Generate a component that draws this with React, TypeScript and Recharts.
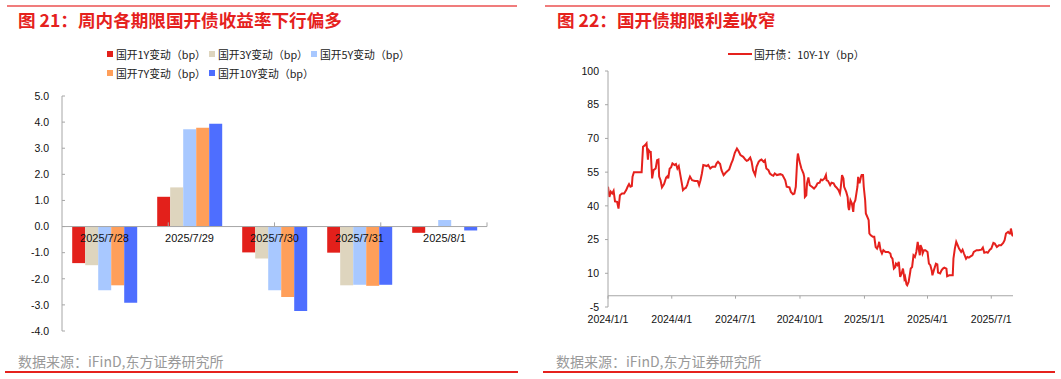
import React from 'react';
import { BarChart, Bar, XAxis, YAxis, ReferenceLine, ReferenceDot, Label, LineChart, Line } from 'recharts';

const FONT = '"Liberation Sans", Arial, "Noto Sans CJK SC", sans-serif';
const CJK = '"Noto Sans CJK SC", "Liberation Sans", sans-serif';

// ---------- Figure 21 data ----------
const barCategories = ['2025/7/28', '2025/7/29', '2025/7/30', '2025/7/31', '2025/8/1'];
const barSeriesKeys = ['y1', 'y3', 'y5', 'y7', 'y10'];
const barSeriesNames = ['国开1Y变动（bp）', '国开3Y变动（bp）', '国开5Y变动（bp）', '国开7Y变动（bp）', '国开10Y变动（bp）'];
const barColors = ['#E3201B', '#DED5BE', '#A8C8FF', '#FF9F5A', '#4E6EFF'];
const chg1Y = [-1.4, 1.14, -0.99, -1.0, -0.24];
const chg3Y = [-1.48, 1.5, -1.22, -2.25, 0];
const chg5Y = [-2.44, 3.73, -2.44, -2.23, 0.25];
const chg7Y = [-2.25, 3.78, -2.7, -2.27, 0];
const chg10Y = [-2.92, 3.94, -3.23, -2.23, -0.15];
const barYTicks = [-4, -3, -2, -1, 0, 1, 2, 3, 4, 5];
const barEdges = [1, 2, 3, 4, 5];

const barSeriesValues = [chg1Y, chg3Y, chg5Y, chg7Y, chg10Y];
const barData = barCategories.map((c, i) => {
  const row: Record<string, any> = { date: c };
  barSeriesKeys.forEach((k, j) => { row[k] = barSeriesValues[j][i]; });
  return row;
});

// ---------- Figure 22 data ----------
const lineName = '国开债：10Y-1Y（bp）';
const lineColor = '#E5211D';
const lineDates = [
  '2024-01-01','2024-01-03','2024-01-05','2024-01-07','2024-01-09','2024-01-11','2024-01-14','2024-01-16','2024-01-18','2024-01-21',
  '2024-01-24','2024-01-27','2024-01-29','2024-01-31','2024-02-02','2024-02-04','2024-02-05','2024-02-07','2024-02-11','2024-02-16',
  '2024-02-18','2024-02-20','2024-02-23','2024-02-25','2024-02-27','2024-02-28','2024-03-01','2024-03-02','2024-03-04','2024-03-06',
  '2024-03-09','2024-03-11','2024-03-13','2024-03-14','2024-03-16','2024-03-18','2024-03-21','2024-03-24','2024-03-26','2024-03-27',
  '2024-03-29','2024-03-31','2024-04-02','2024-04-05','2024-04-07','2024-04-09','2024-04-11','2024-04-12','2024-04-15','2024-04-17',
  '2024-04-19','2024-04-21','2024-04-23','2024-04-25','2024-04-27','2024-04-30','2024-05-04','2024-05-08','2024-05-10','2024-05-12',
  '2024-05-14','2024-05-16','2024-05-21','2024-05-23','2024-05-26','2024-05-29','2024-06-02','2024-06-04','2024-06-06','2024-06-09',
  '2024-06-11','2024-06-14','2024-06-16','2024-06-18','2024-06-22','2024-06-25','2024-06-27','2024-06-30','2024-07-03','2024-07-05',
  '2024-07-08','2024-07-12','2024-07-15','2024-07-17','2024-07-19','2024-07-22','2024-07-24','2024-07-26','2024-07-29','2024-07-31',
  '2024-08-03','2024-08-05','2024-08-07','2024-08-10','2024-08-12','2024-08-14','2024-08-17','2024-08-19','2024-08-22','2024-08-24',
  '2024-08-26','2024-08-29','2024-09-03','2024-09-06','2024-09-10','2024-09-12','2024-09-16','2024-09-18','2024-09-21','2024-09-23',
  '2024-09-25','2024-09-27','2024-09-28','2024-09-30','2024-10-01','2024-10-03','2024-10-06','2024-10-07','2024-10-08','2024-10-10',
  '2024-10-11','2024-10-13','2024-10-15','2024-10-18','2024-10-21','2024-10-24','2024-10-26','2024-10-29','2024-10-31','2024-11-02',
  '2024-11-05','2024-11-07','2024-11-08','2024-11-10','2024-11-13','2024-11-15','2024-11-18','2024-11-20','2024-11-22','2024-11-25',
  '2024-11-27','2024-11-28','2024-11-30','2024-12-02','2024-12-03','2024-12-06','2024-12-08','2024-12-09','2024-12-10','2024-12-12',
  '2024-12-14','2024-12-16','2024-12-17','2024-12-19','2024-12-22','2024-12-23','2024-12-25','2024-12-27','2024-12-28','2024-12-30',
  '2024-12-31','2025-01-02','2025-01-03','2025-01-06','2025-01-07','2025-01-08','2025-01-10','2025-01-13','2025-01-15','2025-01-17',
  '2025-01-19','2025-01-21','2025-01-22','2025-01-24','2025-01-26','2025-01-28','2025-01-31','2025-02-04','2025-02-07','2025-02-08',
  '2025-02-10','2025-02-12','2025-02-14','2025-02-15','2025-02-17','2025-02-19','2025-02-21','2025-02-23','2025-02-25','2025-02-27',
  '2025-02-28','2025-03-02','2025-03-03','2025-03-05','2025-03-07','2025-03-08','2025-03-10','2025-03-12','2025-03-14','2025-03-16',
  '2025-03-18','2025-03-19','2025-03-21','2025-03-22','2025-03-24','2025-03-25','2025-03-27','2025-03-29','2025-04-01','2025-04-03',
  '2025-04-05','2025-04-07','2025-04-08','2025-04-10','2025-04-13','2025-04-15','2025-04-16','2025-04-19','2025-04-21','2025-04-23',
  '2025-04-25','2025-04-28','2025-04-29','2025-05-02','2025-05-04','2025-05-07','2025-05-08','2025-05-10','2025-05-12','2025-05-14',
  '2025-05-16','2025-05-19','2025-05-21','2025-05-23','2025-05-26','2025-05-28','2025-05-30','2025-06-02','2025-06-04','2025-06-06',
  '2025-06-10','2025-06-13','2025-06-17','2025-06-19','2025-06-21','2025-06-24','2025-06-26','2025-06-29','2025-07-01','2025-07-04',
  '2025-07-06','2025-07-09','2025-07-12','2025-07-15','2025-07-18','2025-07-20','2025-07-22','2025-07-25','2025-07-27','2025-07-28',
  '2025-07-29','2025-07-31','2025-08-01',
];
const lineValues = [
  48.5, 44, 46.3, 45.5, 46.7, 42, 41.8, 38.8, 44.7, 45.5,
  45.5, 47, 48.5, 49.7, 48.5, 48.8, 53, 55, 55, 55,
  55, 66.3, 67, 67.8, 60.6, 64.8, 64, 64, 52.2, 55.9,
  56.6, 60.3, 60.6, 53, 51.4, 48.2, 49.7, 52.6, 53.2, 52.2,
  56.6, 57.1, 58.9, 58.2, 58.6, 56.6, 57.7, 55.9, 50.7, 47,
  47.7, 48, 49.2, 51.4, 53, 51.4, 51.1, 51.1, 49.2, 51.4,
  54.4, 58.2, 57.7, 58.2, 56.6, 57.4, 57.4, 58.9, 59.6, 58.6,
  55.9, 53.7, 54.4, 55.1, 56.2, 58.9, 60.3, 63.6, 65.5, 64.5,
  62.6, 61.8, 60.6, 60, 60.3, 61.5, 59.6, 55.9, 53.7, 57.4,
  59.6, 60.3, 60.6, 59.6, 60.3, 56.6, 55.9, 54.4, 53.7, 53.4,
  54.4, 53.7, 54.1, 53.7, 51.4, 48.5, 48.2, 46.2, 45.2, 45.5,
  48.5, 60.3, 63.3, 60.3, 58.9, 56.6, 54.4, 52.9, 44, 44.7,
  50, 52.6, 49.2, 48.5, 47.7, 48.8, 50, 50.3, 51.7, 51.4,
  52.2, 53.7, 51.4, 51.1, 49.2, 50.3, 50, 48.8, 48.2, 47,
  45.5, 47.7, 53.7, 52.2, 48.5, 46.2, 44, 39.6, 38.1, 42.5,
  41.1, 37.3, 41.1, 42.5, 48.5, 52.9, 50, 52.9, 53.7, 53.7,
  48.5, 42.5, 36.6, 34.4, 33.6, 27.7, 26.9, 26.2, 26.2, 21.7,
  21, 22.5, 24, 20.3, 18.8, 20.3, 19.5, 19.5, 18.8, 17.3,
  16.5, 12.1, 12.8, 14.3, 13.6, 15.1, 8.4, 9.9, 12.1, 7.6,
  8.4, 5.1, 4.7, 6.1, 9.9, 12.1, 12.8, 18, 17.3, 19.5,
  24, 21.7, 18, 22.5, 21, 18.8, 20.3, 20.3, 19.5, 14.3,
  13.6, 11.3, 9.1, 11.3, 14.3, 14, 10.3, 9.9, 11.3, 12.1,
  12.5, 12.1, 8.7, 9.1, 9.1, 9.1, 16.5, 21, 24, 22.5,
  21, 19.5, 20.5, 18.8, 16.5, 17.3, 17, 17.6, 18, 19.5,
  20.3, 20.3, 20.5, 21.4, 19.1, 19.4, 19.1, 20.5, 21, 23.5,
  23.2, 21.7, 22.5, 22.5, 23.5, 24.7, 27.7, 28.4, 27.7, 27.7,
  29.9, 26.9, 26.5,
];
const lineXTickLabels = ['2024/1/1', '2024/4/1', '2024/7/1', '2024/10/1', '2025/1/1', '2025/4/1', '2025/7/1'];
const lineXDomain = ['2024/1/1', '2025/8/1'];
const lineYTicks = [-5, 10, 25, 40, 55, 70, 85, 100];

const toTs = (s: string) => {
  const [y, m, d] = s.split(/[-/]/).map(Number);
  return Date.UTC(y, m - 1, d);
};
const lineData = lineDates.map((d, i) => ({ t: toTs(d), v: lineValues[i] }));
const lineXTicks = lineXTickLabels.map(toTs);
const tickLabelOf = (v: number) => {
  const i = lineXTicks.indexOf(v);
  return i >= 0 ? lineXTickLabels[i] : '';
};

const AXIS = '#A6A6A6';

const abs = (style: React.CSSProperties): React.CSSProperties => ({ position: 'absolute', ...style });

export default function App() {
  return (
    <div style={abs({ left: 0, top: 0, width: 1061, height: 379, background: '#fff', overflow: 'hidden' })}>
      {/* top rules */}
      <div style={abs({ left: 7, top: 5, width: 510, height: 2, background: '#F07C7C' })} />
      <div style={abs({ left: 545, top: 5, width: 505, height: 2, background: '#F07C7C' })} />
      {/* titles */}
      <div style={abs({ left: 18, top: 8, fontFamily: CJK, fontWeight: 700, fontSize: 17.6, lineHeight: '24px', color: '#E5211D', whiteSpace: 'nowrap' })}>
        图 21：周内各期限国开债收益率下行偏多
      </div>
      <div style={abs({ left: 557, top: 8, fontFamily: CJK, fontWeight: 700, fontSize: 17.6, lineHeight: '24px', color: '#E5211D', whiteSpace: 'nowrap' })}>
        图 22：国开债期限利差收窄
      </div>

      {/* bar chart */}
      <div style={abs({ left: 0, top: 0 })}>
        <BarChart width={530} height={379} data={barData} margin={{ top: 96, right: 43, bottom: 48, left: 0 }} barCategoryGap="12%" barGap={0}>
          <XAxis dataKey="date" hide />
          <XAxis xAxisId="edge" type="number" domain={[0, 5]} allowDataOverflow hide />
          <YAxis
            width={62}
            domain={[-4, 5]}
            ticks={barYTicks}
            interval={0}
            allowDataOverflow
            tickFormatter={(v: number) => v.toFixed(1)}
            axisLine={{ stroke: AXIS }}
            tickLine={{ stroke: AXIS }}
            tickSize={-3}
            tickMargin={16}
            tick={{ fill: '#111', fontSize: 10.5, fontFamily: FONT }}
          />
          {barSeriesKeys.map((k, j) => (
            <Bar key={k} dataKey={k} name={barSeriesNames[j]} fill={barColors[j]} isAnimationActive={false} />
          ))}
          <ReferenceLine y={0} stroke={AXIS} />
          {barEdges.map((e) => (
            <ReferenceLine key={'e' + e} xAxisId="edge" segment={[{ x: e, y: 0 }, { x: e, y: 0.16 }]} stroke={AXIS} />
          ))}
          {barCategories.map((c) => (
            <ReferenceDot key={c} x={c} y={0} r={0} fill="none" stroke="none">
              <Label value={c} position="bottom" offset={8} fill="#111" fontSize={11} fontFamily={FONT} />
            </ReferenceDot>
          ))}
        </BarChart>
      </div>

      {/* bar legend */}
      <div style={abs({ left: 107, top: 44, width: 320, display: 'flex', flexWrap: 'wrap', fontFamily: CJK, fontSize: 10.8, color: '#222' })}>
        {barSeriesNames.map((n, j) => (
          <div key={n} style={{ width: 102, height: 19, display: 'flex', alignItems: 'center', whiteSpace: 'nowrap' }}>
            <span style={{ display: 'inline-block', flexShrink: 0, width: 6, height: 6, background: barColors[j], marginRight: 3 }} />
            <span style={{ flexShrink: 0 }}>{n}</span>
          </div>
        ))}
      </div>

      {/* line chart */}
      <div style={abs({ left: 530, top: 0 })}>
        <LineChart width={531} height={379} data={lineData} margin={{ top: 71, right: 48, bottom: 42, left: 0 }}>
          <XAxis
            dataKey="t"
            type="number"
            domain={[toTs(lineXDomain[0]), toTs(lineXDomain[1])]}
            allowDataOverflow
            ticks={lineXTicks}
            interval={0}
            tickFormatter={tickLabelOf}
            axisLine={false}
            tickLine={false}
            tickSize={0}
            tickMargin={9}
            height={30}
            tick={{ fill: '#111', fontSize: 10.5, fontFamily: FONT }}
          />
          <YAxis
            width={78}
            domain={[-5, 100]}
            ticks={lineYTicks}
            interval={0}
            allowDataOverflow
            axisLine={{ stroke: AXIS }}
            tickLine={{ stroke: AXIS }}
            tickSize={3}
            tickMargin={6}
            tick={{ fill: '#111', fontSize: 10.5, fontFamily: FONT }}
          />
          <ReferenceLine y={0} stroke={AXIS} />
          {lineXTicks.map((t) => (
            <ReferenceLine key={'t' + t} segment={[{ x: t, y: 0 }, { x: t, y: -1.3 }]} stroke={AXIS} />
          ))}
          <Line type="linear" dataKey="v" name={lineName} stroke={lineColor} strokeWidth={2} dot={false} isAnimationActive={false} />
        </LineChart>
      </div>

      {/* line legend */}
      <div style={abs({ left: 728, top: 44, height: 19, display: 'flex', alignItems: 'center', fontFamily: CJK, fontSize: 10.8, color: '#222', whiteSpace: 'nowrap' })}>
        <span style={{ display: 'inline-block', width: 24, height: 2, background: lineColor, marginRight: 2 }} />
        <span>{lineName}</span>
      </div>

      {/* sources */}
      <div style={abs({ left: 18, top: 352, fontFamily: CJK, fontSize: 14, lineHeight: '19px', color: '#999', whiteSpace: 'nowrap' })}>
        数据来源：iFinD,东方证券研究所
      </div>
      <div style={abs({ left: 556, top: 352, fontFamily: CJK, fontSize: 14, lineHeight: '19px', color: '#999', whiteSpace: 'nowrap' })}>
        数据来源：iFinD,东方证券研究所
      </div>
      {/* bottom rules */}
      <div style={abs({ left: 5, top: 371, width: 513, height: 2, background: '#E5211D' })} />
      <div style={abs({ left: 543, top: 371, width: 512, height: 2, background: '#E5211D' })} />
    </div>
  );
}
